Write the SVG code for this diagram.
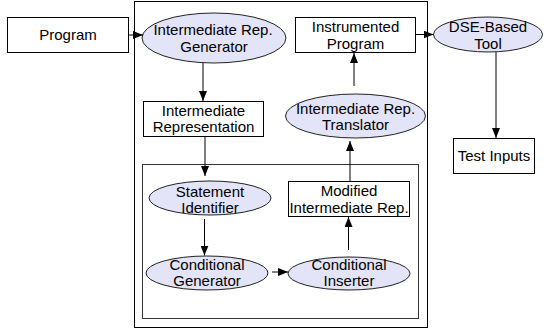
<svg xmlns="http://www.w3.org/2000/svg" width="554" height="332" viewBox="0 0 554 332">
<defs>
<marker id="ah" markerUnits="userSpaceOnUse" markerWidth="10" markerHeight="8" refX="10" refY="4" orient="auto">
<path d="M0,0 L10,4 L0,8 z" fill="#000"/>
</marker>
<style>
.box{fill:#fff;stroke:#000;stroke-width:1}
.ell{fill:#e4e4f9;stroke:#222;stroke-width:1}
.frame{fill:none;stroke:#000;stroke-width:1}
.inner{fill:none;stroke:#333;stroke-width:1}
.t{font-family:"Liberation Sans",Arial,sans-serif;font-size:15px;fill:#000;text-anchor:middle}
.c{fill:none;stroke:#000;stroke-width:1;marker-end:url(#ah)}
</style>
</defs>
<rect class="frame" x="134.5" y="1.5" width="293" height="326"/>
<rect class="inner" x="142.5" y="164.5" width="276" height="154"/>
<g id="program"><rect class="box" x="7.5" y="17.5" width="121" height="35"/><text class="t" x="68" y="40">Program</text></g>
<g id="ir-generator"><ellipse class="ell" cx="214" cy="38" rx="72" ry="25"/><text class="t" x="213" y="35">Intermediate Rep.</text><text class="t" x="214" y="51.5">Generator</text></g>
<g id="ir"><rect class="box" x="143.5" y="101.5" width="120" height="35"/><text class="t" x="203.5" y="115.5">Intermediate</text><text class="t" x="203.5" y="132">Representation</text></g>
<g id="statement-identifier"><ellipse class="ell" cx="210" cy="198" rx="61" ry="17"/><text class="t" x="210" y="197">Statement</text><text class="t" x="210" y="213">Identifier</text></g>
<g id="conditional-generator"><ellipse class="ell" cx="207" cy="273" rx="61" ry="17"/><text class="t" x="207" y="270">Conditional</text><text class="t" x="207" y="286">Generator</text></g>
<g id="conditional-inserter"><ellipse class="ell" cx="349" cy="273.5" rx="61" ry="16.5"/><text class="t" x="349" y="270">Conditional</text><text class="t" x="349" y="286">Inserter</text></g>
<g id="modified-ir"><rect class="box" x="288.5" y="181.5" width="121" height="35"/><text class="t" x="349" y="196">Modified</text><text class="t" x="349" y="212.5">Intermediate Rep.</text></g>
<g id="ir-translator"><ellipse class="ell" cx="355.5" cy="116" rx="70" ry="22"/><text class="t" x="355.5" y="113.5">Intermediate Rep.</text><text class="t" x="355.5" y="130">Translator</text></g>
<g id="instrumented-program"><rect class="box" x="295.5" y="17.5" width="120" height="35"/><text class="t" x="355.5" y="32">Instrumented</text><text class="t" x="355.5" y="48.5">Program</text></g>
<g id="dse-tool"><ellipse class="ell" cx="488" cy="34.5" rx="54.5" ry="17.5"/><text class="t" x="488" y="32">DSE-Based</text><text class="t" x="488" y="48.5">Tool</text></g>
<g id="test-inputs"><rect class="box" x="453.5" y="138.5" width="81" height="35"/><text class="t" x="494" y="161">Test Inputs</text></g>
<g id="connectors">
<line class="c" x1="128.5" y1="35" x2="143" y2="35"/>
<line class="c" x1="203" y1="63" x2="203" y2="101"/>
<line class="c" x1="205" y1="136.5" x2="205" y2="176"/>
<line class="c" x1="204.5" y1="219" x2="204.5" y2="255.5"/>
<line class="c" x1="272" y1="272" x2="288" y2="272"/>
<line class="c" x1="348.5" y1="250" x2="348.5" y2="217"/>
<line class="c" x1="350" y1="181" x2="350" y2="141"/>
<line class="c" x1="354" y1="86" x2="354" y2="53"/>
<line class="c" x1="416" y1="34.5" x2="433.5" y2="34.5"/>
<line class="c" x1="496" y1="52" x2="496" y2="138"/>
</g>
</svg>
